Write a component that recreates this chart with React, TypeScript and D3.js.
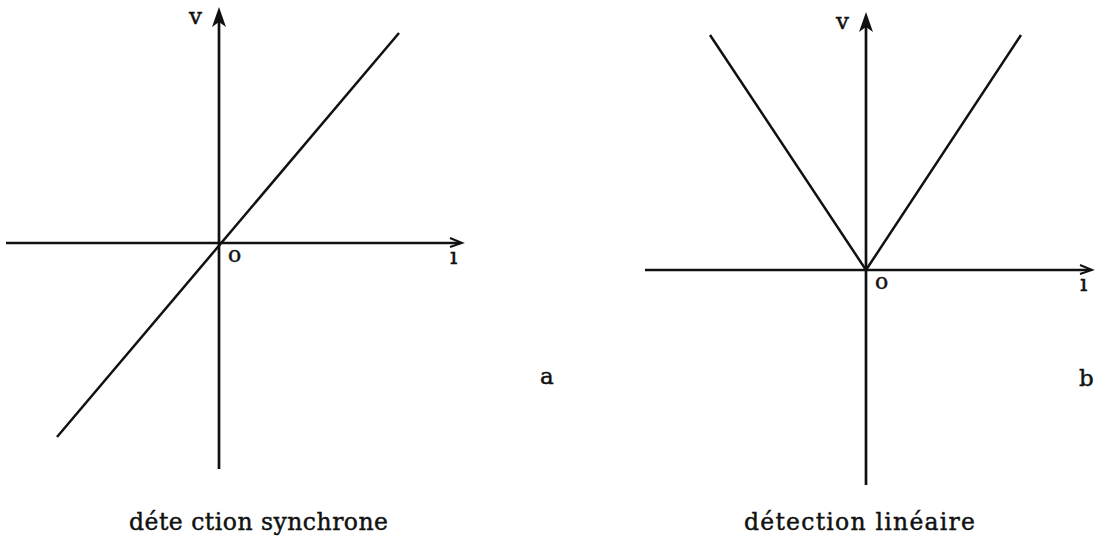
import React from "react";
import * as d3 from "d3";

// Response curves v(i) for two detection modes
const synchronePoints = [
  { i: -0.81, v: -0.97 },
  { i: 0.9, v: 1.05 },
];
const lineairePoints = [
  { i: -0.78, v: 1.175 },
  { i: 0, v: 0 },
  { i: 0.775, v: 1.175 },
];

// Axis extents (in the same units as the curves)
const synchroneIDomain = [-1.065, 1.215];
const synchroneVDomain = [-1.13, 1.18];
const lineaireIDomain = [-1.105, 1.13];
const lineaireVDomain = [-1.075, 1.29];

const captions = ["déte ction synchrone", "détection linéaire"];
const panelTags = ["a", "b"];

const FONT = "'DejaVu Serif', 'Liberation Serif', serif";
const INK = "#111";

type Pt = { i: number; v: number };

// Typewriter-like ink: a thin outline thickens the glyphs a little
const inkText = { fill: INK, stroke: INK, strokeWidth: 0.45 };

function Panel(props: {
  points: Pt[];
  iDomain: number[];
  vDomain: number[];
  xRange: [number, number];
  yRange: [number, number];
  tag: string;
  tagPos: [number, number];
  caption: string;
  captionX: number;
  captionW: number;
}) {
  const { points, iDomain, vDomain, xRange, yRange, tag, tagPos, caption, captionX, captionW } = props;
  const x = d3.scaleLinear().domain(iDomain).range(xRange);
  const y = d3.scaleLinear().domain(vDomain).range(yRange);
  const ox = x(0);
  const oy = y(0);
  const line = d3
    .line<Pt>()
    .x((d) => x(d.i))
    .y((d) => y(d.v));
  const top = y(vDomain[1]);
  const bottom = y(vDomain[0]);
  const left = x(iDomain[0]);
  const right = x(iDomain[1]);

  return (
    <g>
      {/* i axis */}
      <line x1={left} y1={oy} x2={right - 2} y2={oy} stroke={INK} strokeWidth={2.5} />
      <path
        d={`M${right - 12},${oy - 5} L${right},${oy} L${right - 12},${oy + 4}`}
        fill="none"
        stroke={INK}
        strokeWidth={2}
      />
      {/* v axis */}
      <line x1={ox} y1={top + 10} x2={ox} y2={bottom} stroke={INK} strokeWidth={2.7} />
      <path
        d={`M${ox},${top} L${ox + 7},${top + 20} L${ox},${top + 15} L${ox - 7},${top + 20} Z`}
        fill={INK}
      />
      {/* curve */}
      <path d={line(points) || ""} fill="none" stroke={INK} strokeWidth={2.5} />
      {/* labels */}
      <text x={ox - 30} y={top + 17} fontFamily={FONT} fontSize={23} {...inkText}>
        v
      </text>
      <text x={ox + 9} y={oy + 19} fontFamily={FONT} fontSize={22} {...inkText}>
        o
      </text>
      <text x={right - 12} y={oy + 21} fontFamily={FONT} fontSize={23} {...inkText}>
        ı
      </text>
      <text x={tagPos[0]} y={tagPos[1]} fontFamily={FONT} fontSize={23} {...inkText}>
        {tag}
      </text>
      <text
        x={captionX}
        y={530}
        fontFamily={FONT}
        fontSize={23.5}
        {...inkText}
        textLength={captionW}
        lengthAdjust="spacing"
      >
        {caption}
      </text>
    </g>
  );
}

export default function App() {
  return (
    <svg
      width={1098}
      height={547}
      style={{ position: "absolute", left: 0, top: 0, background: "#fff" }}
    >
      <rect width={1098} height={547} fill="#fff" />
      <Panel
        points={synchronePoints}
        iDomain={synchroneIDomain}
        vDomain={synchroneVDomain}
        xRange={[6, 462]}
        yRange={[469, 7]}
        tag={panelTags[0]}
        tagPos={[540, 384]}
        caption={captions[0]}
        captionX={129}
        captionW={259}
      />
      <Panel
        points={lineairePoints}
        iDomain={lineaireIDomain}
        vDomain={lineaireVDomain}
        xRange={[645, 1092]}
        yRange={[485, 12]}
        tag={panelTags[1]}
        tagPos={[1079, 386]}
        caption={captions[1]}
        captionX={744}
        captionW={231}
      />
    </svg>
  );
}
